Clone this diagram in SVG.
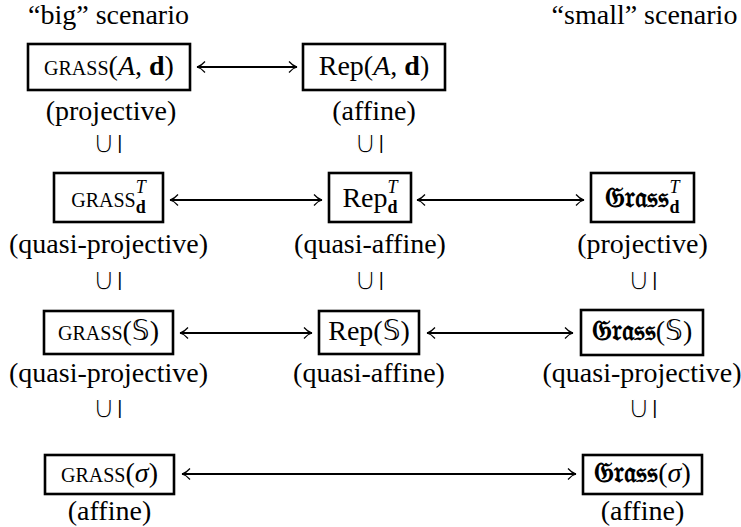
<svg xmlns="http://www.w3.org/2000/svg" width="741" height="527" viewBox="0 0 741 527">
<defs>
<style>
.t{font-family:"Liberation Serif","DejaVu Serif",serif;font-size:28px;fill:#000;text-anchor:middle}
.sc{font-size:20px}
.it{font-style:italic}
.bf{font-weight:bold}
.sup{font-size:18px;font-style:italic}
.sub{font-size:18px;font-weight:bold}
.fr{font-family:"DejaVu Serif","DejaVu Sans",serif;font-weight:bold}
.ds{font-family:"DejaVu Sans",serif}
.box{fill:#fff;stroke:#000;stroke-width:2.6}
.cup{font-family:"DejaVu Sans",sans-serif;font-size:32px;fill:#000;text-anchor:middle}
.u{stroke:#fff;stroke-width:1.3}
.bar{font-size:18px;stroke:none}
#connectors line{stroke:#000;stroke-width:1.8;marker-start:url(#tip);marker-end:url(#tip)}
</style>
<marker id="tip" viewBox="-10 -7 12 14" refX="0" refY="0" markerWidth="12" markerHeight="14" markerUnits="userSpaceOnUse" orient="auto-start-reverse">
<path d="M-8,-5.5 C-5,-2 -2,-0.5 0,0 C-2,0.5 -5,2 -8,5.5" fill="none" stroke="#000" stroke-width="1.2"/>
</marker>
</defs>
<rect width="741" height="527" fill="#fff"/>
<text class="t" x="108.5" y="24">“big” scenario</text>
<text class="t" x="644.5" y="24">“small” scenario</text>

<g id="connectors">
<line x1="197" y1="67" x2="297" y2="67"/>
<line x1="170" y1="200" x2="322" y2="200"/>
<line x1="417" y1="200" x2="584" y2="200"/>
<line x1="180" y1="333" x2="312" y2="333"/>
<line x1="427" y1="333" x2="573" y2="333"/>
<line x1="182" y1="474" x2="576" y2="474"/>
</g>

<g id="grass-Ad">
<rect class="box" x="28" y="44" width="162" height="46"/>
<text class="t" x="109" y="75"><tspan class="sc">GRASS</tspan>(<tspan class="it">A</tspan>, <tspan class="bf">d</tspan>)</text>
<text class="t" x="111" y="120">(projective)</text>
</g>
<g id="rep-Ad">
<rect class="box" x="303" y="44" width="142" height="46"/>
<text class="t" x="374" y="75">Rep(<tspan class="it">A</tspan>, <tspan class="bf">d</tspan>)</text>
<text class="t" x="374" y="120">(affine)</text>
</g>

<g id="subsets">
<text class="cup" x="107.5" y="153"><tspan class="u">∪</tspan><tspan class="bar" dx="1" dy="-4">|</tspan></text>
<text class="cup" x="369" y="153"><tspan class="u">∪</tspan><tspan class="bar" dx="1" dy="-4">|</tspan></text>
<text class="cup" x="107.5" y="290"><tspan class="u">∪</tspan><tspan class="bar" dx="1" dy="-4">|</tspan></text>
<text class="cup" x="369" y="290"><tspan class="u">∪</tspan><tspan class="bar" dx="1" dy="-4">|</tspan></text>
<text class="cup" x="642.5" y="290"><tspan class="u">∪</tspan><tspan class="bar" dx="1" dy="-4">|</tspan></text>
<text class="cup" x="107.5" y="418"><tspan class="u">∪</tspan><tspan class="bar" dx="1" dy="-4">|</tspan></text>
<text class="cup" x="642.5" y="418"><tspan class="u">∪</tspan><tspan class="bar" dx="1" dy="-4">|</tspan></text>
</g>

<g id="grass-T">
<rect class="box" x="54" y="173" width="109" height="49"/>
<text class="t" x="108.5" y="207"><tspan class="sc">GRASS</tspan><tspan class="sup" dy="-14">T</tspan><tspan class="sub" dx="-10" dy="20">d</tspan></text>
<text class="t" x="108.5" y="253">(quasi-projective)</text>
</g>
<g id="rep-T">
<rect class="box" x="329" y="173" width="82" height="49"/>
<text class="t" x="370" y="207">Rep<tspan class="sup" dy="-14">T</tspan><tspan class="sub" dx="-10" dy="20">d</tspan></text>
<text class="t" x="370" y="253">(quasi-affine)</text>
</g>
<g id="frak-grass-T">
<rect class="box" x="591" y="173" width="103" height="49"/>
<text class="t" x="642.5" y="207"><tspan class="fr">𝔊𝔯𝔞𝔰𝔰</tspan><tspan class="sup" dy="-14">T</tspan><tspan class="sub" dx="-10" dy="20">d</tspan></text>
<text class="t" x="642.5" y="253">(projective)</text>
</g>

<g id="grass-S">
<rect class="box" x="44" y="311" width="129" height="43"/>
<text class="t" x="108.5" y="340"><tspan class="sc">GRASS</tspan>(<tspan class="ds">𝕊</tspan>)</text>
<text class="t" x="108.5" y="382">(quasi-projective)</text>
</g>
<g id="rep-S">
<rect class="box" x="319" y="311" width="100" height="43"/>
<text class="t" x="369" y="340">Rep(<tspan class="ds">𝕊</tspan>)</text>
<text class="t" x="369" y="382">(quasi-affine)</text>
</g>
<g id="frak-grass-S">
<rect class="box" x="581" y="310" width="122" height="45"/>
<text class="t" x="642" y="340"><tspan class="fr">𝔊𝔯𝔞𝔰𝔰</tspan>(<tspan class="ds">𝕊</tspan>)</text>
<text class="t" x="642" y="382">(quasi-projective)</text>
</g>

<g id="grass-sigma">
<rect class="box" x="45" y="455" width="129" height="39"/>
<text class="t" x="109.5" y="482"><tspan class="sc">GRASS</tspan>(<tspan class="it">σ</tspan>)</text>
<text class="t" x="109.5" y="520">(affine)</text>
</g>
<g id="frak-grass-sigma">
<rect class="box" x="583" y="455" width="119" height="39"/>
<text class="t" x="642.5" y="482"><tspan class="fr">𝔊𝔯𝔞𝔰𝔰</tspan>(<tspan class="it">σ</tspan>)</text>
<text class="t" x="642.5" y="520">(affine)</text>
</g>
</svg>
